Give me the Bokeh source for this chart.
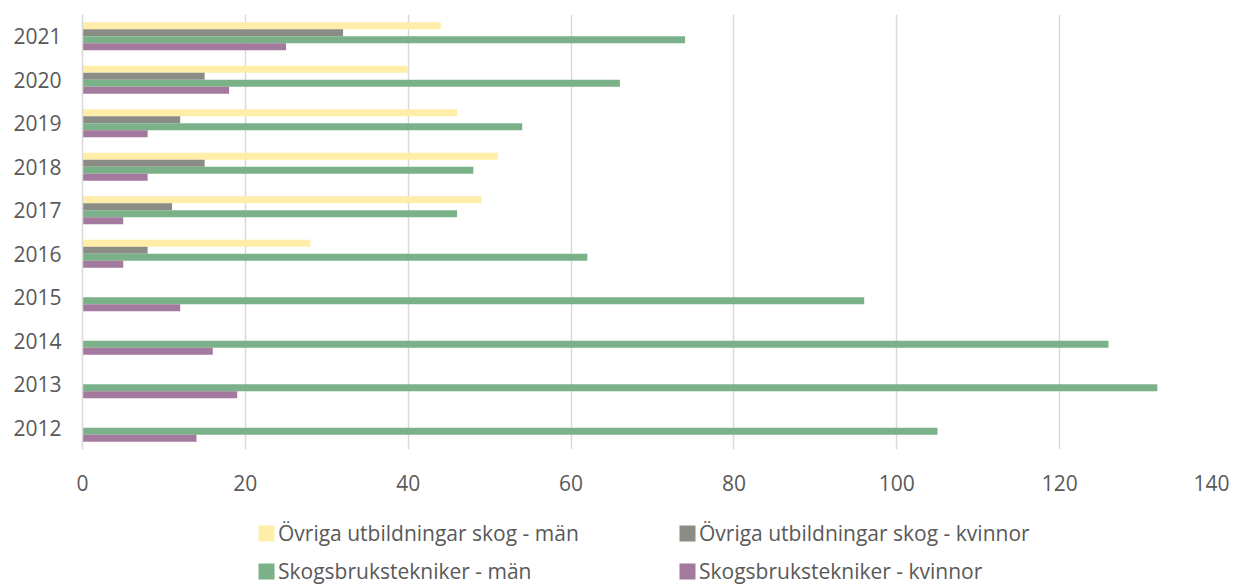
from bokeh.plotting import figure
from bokeh.layouts import column
from bokeh.models import ColumnDataSource, FactorRange, Legend, LegendItem
from bokeh.transform import dodge
from bokeh.embed import file_html
from bokeh.resources import INLINE

years = ["2012", "2013", "2014", "2015", "2016", "2017", "2018", "2019", "2020", "2021"]
ovriga_man = [0, 0, 0, 0, 28, 49, 51, 46, 40, 44]
ovriga_kvinnor = [0, 0, 0, 0, 8, 11, 15, 12, 15, 32]
skog_man = [105, 132, 126, 96, 62, 46, 48, 54, 66, 74]
skog_kvinnor = [14, 19, 16, 12, 5, 5, 8, 8, 18, 25]
x_ticks = [0, 20, 40, 60, 80, 100, 120, 140]

series = [
    ("Övriga utbildningar skog - män", "om", "#FFEDA8", 0.24),
    ("Övriga utbildningar skog - kvinnor", "ok", "#8B8C86", 0.08),
    ("Skogsbrukstekniker - män", "sm", "#7BB189", -0.08),
    ("Skogsbrukstekniker - kvinnor", "sk", "#A3799E", -0.24),
]

src = ColumnDataSource(dict(
    year=years, om=ovriga_man, ok=ovriga_kvinnor, sm=skog_man, sk=skog_kvinnor))

FONT = "Open Sans"
TXT = "#595959"

p = figure(width=1229, height=500, y_range=FactorRange(*years), x_range=(0, 140),
           output_backend="svg", toolbar_location=None,
           min_border_left=82, min_border_right=7, min_border_top=14, min_border_bottom=51)

for label, col, color, off in series:
    p.hbar(y=dodge("year", off, range=p.y_range), right=col, left=0, height=0.16,
           source=src, fill_color=color, line_color=None)

p.outline_line_color = None
p.ygrid.grid_line_color = None
p.xgrid.grid_line_color = "#D9D9D9"
p.xgrid.grid_line_width = 1.5
p.xaxis.ticker = x_ticks
p.xaxis.axis_line_color = None
p.xaxis.major_tick_line_color = None
p.xaxis.minor_tick_line_color = None
p.xaxis.major_label_standoff = 19
p.yaxis.axis_line_color = "#D9D9D9"
p.yaxis.axis_line_width = 1.5
p.yaxis.major_tick_line_color = None
p.yaxis.minor_tick_line_color = None
p.yaxis.major_label_standoff = 15
for ax in (p.xaxis, p.yaxis):
    ax.major_label_text_font = FONT
    ax.major_label_text_font_size = "21px"
    ax.major_label_text_color = TXT

# legend strip below the chart
lp = figure(width=1229, height=86, x_range=(0, 1), y_range=(0, 1),
            output_backend="svg", toolbar_location=None,
            x_axis_location=None, y_axis_location=None, min_border=0)
lp.outline_line_color = None
lp.grid.visible = False
items = []
for label, col, color, off in series:
    # legend swatch only: a zero-length bar placed outside the strip's visible range
    r = lp.hbar(y=[-5], right=[0], left=0, height=0.16, fill_color=color, line_color=None)
    items.append(LegendItem(label=label, renderers=[r]))

legend = Legend(items=items, location=(174, 1), orientation="horizontal", ncols=2)
legend.glyph_width = 20
legend.glyph_height = 20
legend.label_standoff = 2
legend.label_width = 389
legend.label_height = 28
legend.spacing = 10
legend.padding = 0
legend.margin = 0
legend.border_line_color = None
legend.background_fill_alpha = 0
legend.label_text_font = FONT
legend.label_text_font_size = "21px"
legend.label_text_color = TXT
lp.add_layout(legend, "center")

open("out.html", "w").write(file_html(column(p, lp, spacing=0), INLINE))
